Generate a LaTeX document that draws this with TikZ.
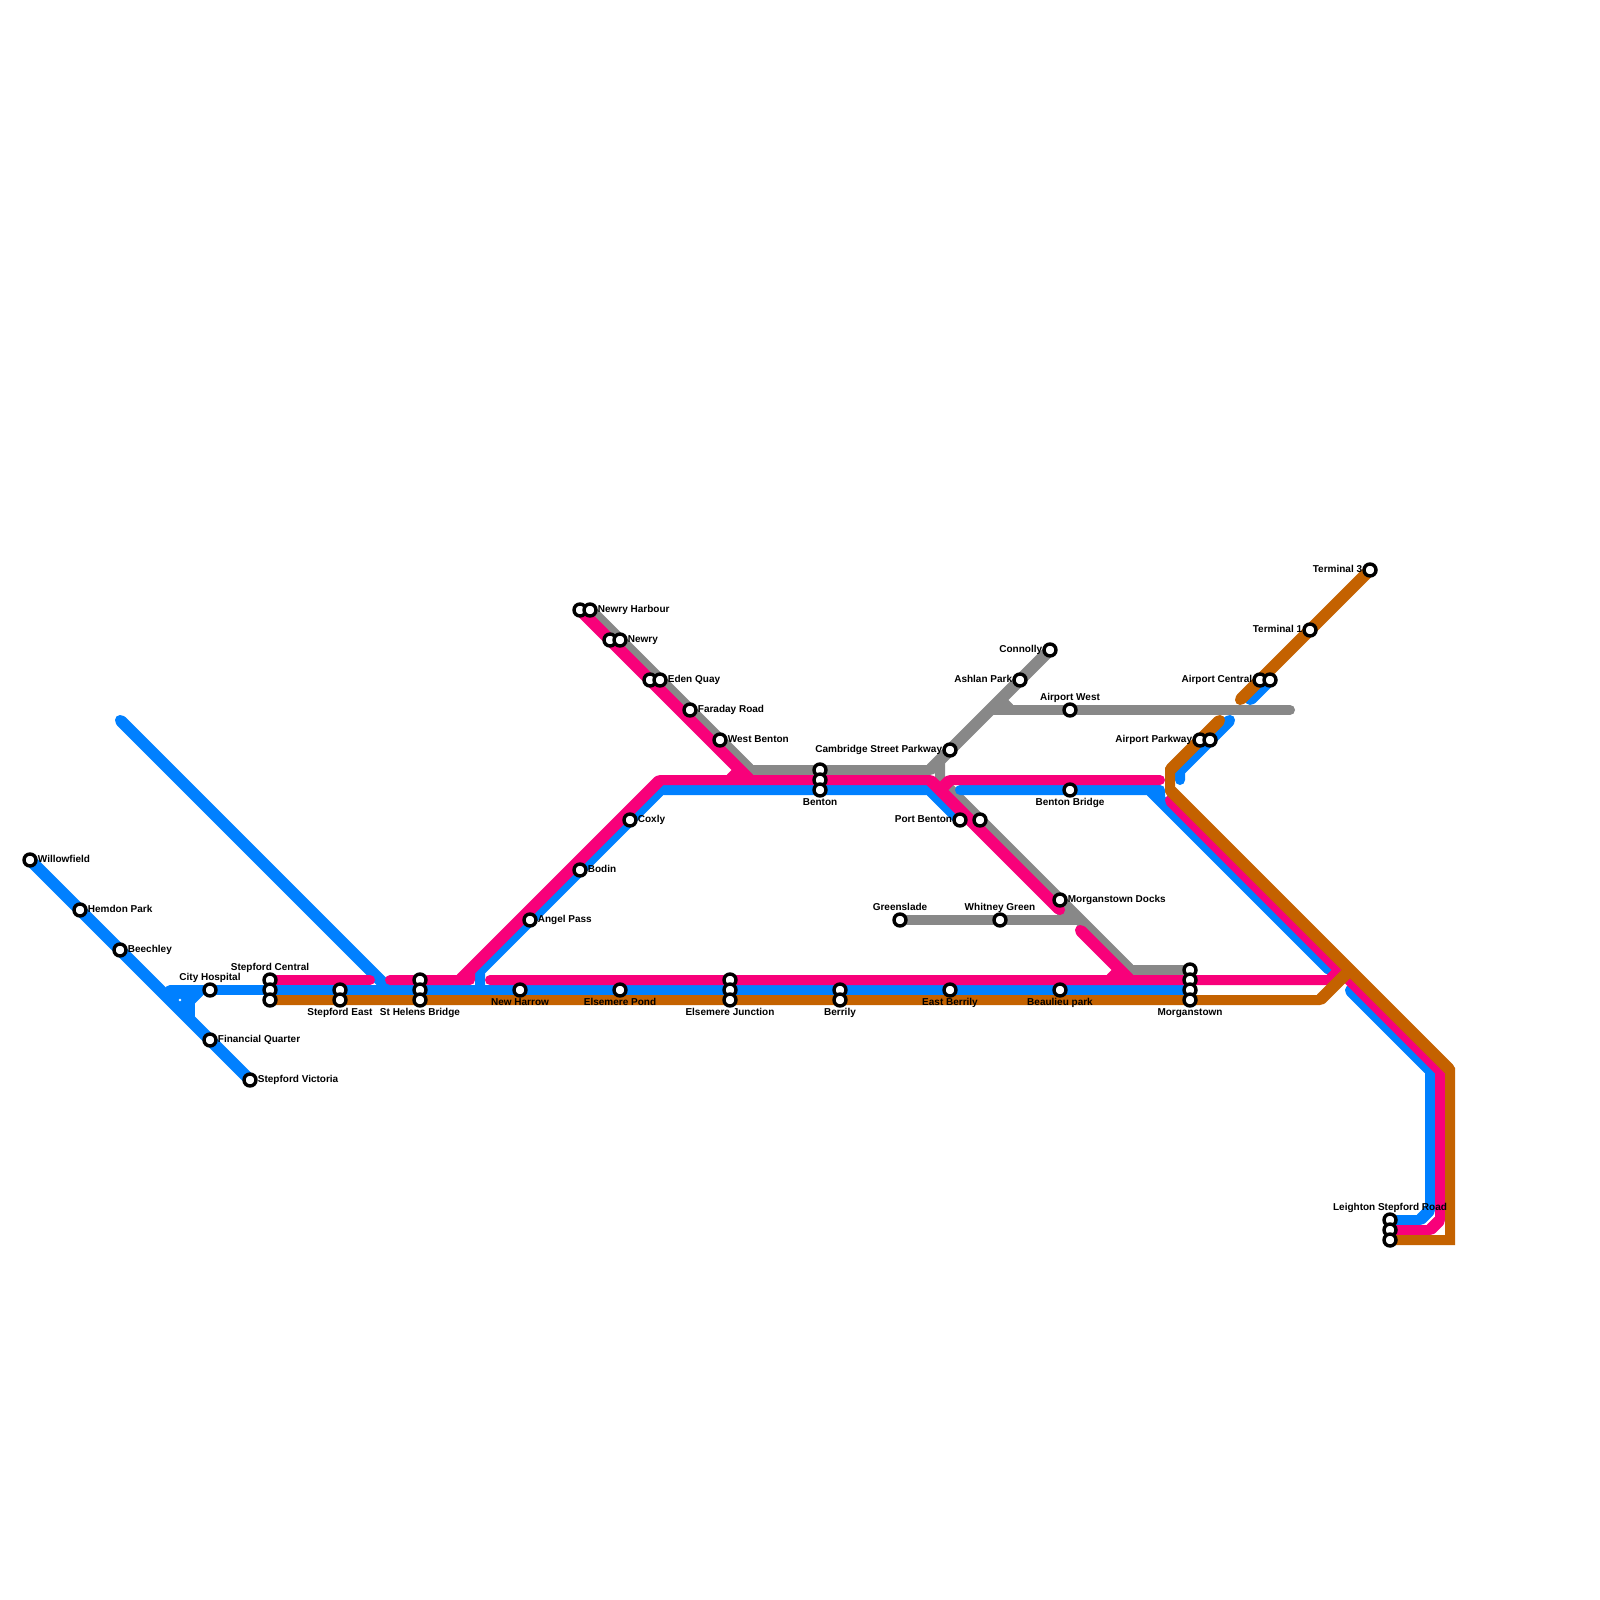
\documentclass[tikz,border=0pt]{standalone}
\usepackage{fontspec}
\setmainfont{Liberation Sans}
\usetikzlibrary{backgrounds}
\definecolor{lineblue}{HTML}{0080FF}
\definecolor{linered}{HTML}{F8007A}
\definecolor{linebrown}{HTML}{C46200}
\definecolor{linegrey}{HTML}{888888}
\tikzset{
lbltext/.style={inner sep=0pt, text height=7.2pt, text depth=2.1pt, font=\fontsize{10}{11}\selectfont\bfseries},
toright/.style={label={[lbltext]0:#1}},
toleft/.style={label={[lbltext]180:#1}},
toabove/.style={label={[lbltext]90:#1}},
tobelow/.style={label={[lbltext,yshift=-0.7pt]270:#1}}
}
\begin{document}
\begin{tikzpicture}[
x=1pt, y=-1pt,
stn/.style={draw=black, fill=white, circle, line width=3.4pt, minimum size=12pt, inner sep=0pt, label distance=1.7pt},
route/.style={line width=10pt, line cap=round, line join=round},
slant/.style={line width=11.8pt, line cap=round, shorten <=2pt, shorten >=2pt},
blueline/.style={route, lineblue},
redline/.style={route, linered},
brownline/.style={route, linebrown},
greyline/.style={route, linegrey}
]

\useasboundingbox (0,0) rectangle (1600,1600);

\node[stn,toright=Willowfield] (willowfield) at (30,860) {};
\node[stn,toright=Hemdon Park] (hemdon) at (80,910) {};
\node[stn,toright=Beechley] (beechley) at (120,950) {};
\node[stn,toabove=City Hospital] (hospital) at (210,990) {};
\node[stn,toright=Financial Quarter] (financial) at (210,1040) {};
\node[stn,toright=Stepford Victoria] (victoria) at (250,1080) {};

\node[stn,toabove=Stepford Central] (stepfordA) at (270,980) {};
\node[stn] (stepfordB) at (270,990) {};
\node[stn] (stepfordC) at (270,1000) {};
\node[stn] (stepeastA) at (340,990) {};
\node[stn,tobelow=Stepford East] (stepeastB) at (340,1000) {};
\node[stn] (helensA) at (420,980) {};
\node[stn] (helensB) at (420,990) {};
\node[stn,tobelow=St Helens Bridge] (helensC) at (420,1000) {};
\node[stn,tobelow=New Harrow] (harrow) at (520,990) {};
\node[stn,tobelow=Elsemere Pond] (pond) at (620,990) {};
\node[stn] (junctionA) at (730,980) {};
\node[stn] (junctionB) at (730,990) {};
\node[stn,tobelow=Elsemere Junction] (junctionC) at (730,1000) {};
\node[stn] (berrilyA) at (840,990) {};
\node[stn,tobelow=Berrily] (berrilyB) at (840,1000) {};
\node[stn,tobelow=East Berrily] (eastberrily) at (950,990) {};
\node[stn,tobelow=Beaulieu park] (beaulieu) at (1060,990) {};
\node[stn] (morganA) at (1190,970) {};
\node[stn] (morganB) at (1190,980) {};
\node[stn] (morganC) at (1190,990) {};
\node[stn,tobelow=Morganstown] (morganD) at (1190,1000) {};

\node[stn,toright=Angel Pass] (angel) at (530,920) {};
\node[stn,toright=Bodin] (bodin) at (580,870) {};
\node[stn,toright=Coxly] (coxly) at (630,820) {};

\node[stn] (harbourA) at (580,610) {};
\node[stn,toright=Newry Harbour] (harbourB) at (590,610) {};
\node[stn] (newryA) at (610,640) {};
\node[stn,toright=Newry] (newryB) at (620,640) {};
\node[stn] (edenA) at (650,680) {};
\node[stn,toright=Eden Quay] (edenB) at (660,680) {};
\node[stn,toright=Faraday Road] (faraday) at (690,710) {};
\node[stn,toright=West Benton] (westbenton) at (720,740) {};

\node[stn] (bentonA) at (820,770) {};
\node[stn] (bentonB) at (820,780) {};
\node[stn,tobelow=Benton] (bentonC) at (820,790) {};

\node[stn,toleft=Cambridge Street Parkway] (cambridge) at (950,750) {};
\node[stn,toleft=Ashlan Park] (ashlan) at (1020,680) {};
\node[stn,toleft=Connolly] (connolly) at (1050,650) {};
\node[stn,toabove=Airport West] (airportwest) at (1070,710) {};
\node[stn,tobelow=Benton Bridge] (bentonbridge) at (1070,790) {};
\node[stn,toleft=Port Benton] (portbenton) at (960,820) {};
\node[stn] (portgrey) at (980,820) {};
\node[stn,toright=Morganstown Docks] (docks) at (1060,900) {};
\node[stn,toabove=Greenslade] (greenslade) at (900,920) {};
\node[stn,toabove=Whitney Green] (whitney) at (1000,920) {};

\node[stn,toleft=Airport Parkway] (parkwayA) at (1200,740) {};
\node[stn] (parkwayB) at (1210,740) {};
\node[stn,toleft=Airport Central] (centralA) at (1260,680) {};
\node[stn] (centralB) at (1270,680) {};
\node[stn,toleft=Terminal 1] (terminalA) at (1310,630) {};
\node[stn,toleft=Terminal 3] (terminalC) at (1370,570) {};

\node[stn,toabove=Leighton Stepford Road] (leightonA) at (1390,1220) {};
\node[stn] (leightonB) at (1390,1230) {};
\node[stn] (leightonC) at (1390,1240) {};

\coordinate (greyA) at (750,770);
\coordinate (greyB) at (930,770);
\coordinate (greyC) at (940,760);
\coordinate (greyD) at (940,780);
\coordinate (greyE) at (1130,970);
\coordinate (greyF) at (1080,920);
\coordinate (greyG) at (1060,920);
\coordinate (greyH) at (1070,910);
\coordinate (greyI) at (990,710);
\coordinate (greyJ) at (1290,710);
\coordinate (greyK) at (1000,700);
\coordinate (greyL) at (1010,710);

\coordinate (blueA) at (120,720);
\coordinate (blueB) at (385,985);
\coordinate (blueC) at (170,990);
\coordinate (blueD) at (170,1000);
\coordinate (blueE) at (180,990);
\coordinate (blueF) at (190,1000);
\coordinate (blueG) at (190,1020);
\coordinate (blueH) at (200,990);
\coordinate (blueI) at (480,990);
\coordinate (blueJ) at (480,970);
\coordinate (blueK) at (660,790);
\coordinate (blueL) at (930,790);
\coordinate (blueM) at (960,790);
\coordinate (blueN) at (1160,790);
\coordinate (blueO) at (1160,800);
\coordinate (blueP) at (1330,970);
\coordinate (blueQ) at (1350,990);
\coordinate (blueR) at (1430,1070);
\coordinate (blueS) at (1430,1210);
\coordinate (blueT) at (1420,1220);
\coordinate (blueU) at (1180,780);
\coordinate (blueV) at (1180,770);
\coordinate (blueW) at (1230,720);
\coordinate (blueX) at (1250,700);
\coordinate (blueY) at (180,1010);
\coordinate (blueZ) at (1150,790);

\coordinate (redA) at (370,980);
\coordinate (redB) at (390,980);
\coordinate (redC) at (470,980);
\coordinate (redD) at (470,970);
\coordinate (redE) at (660,780);
\coordinate (redF) at (930,780);
\coordinate (redG) at (1060,910);
\coordinate (redH) at (750,780);
\coordinate (redI) at (730,780);
\coordinate (redJ) at (740,770);
\coordinate (redK) at (490,980);
\coordinate (redL) at (1330,980);
\coordinate (redM) at (1340,970);
\coordinate (redN) at (1170,800);
\coordinate (redO) at (1440,1070);
\coordinate (redP) at (1440,1220);
\coordinate (redQ) at (1430,1230);
\coordinate (redR) at (1080,930);
\coordinate (redS) at (1130,980);
\coordinate (redT) at (1110,980);
\coordinate (redU) at (1120,970);
\coordinate (redV) at (1160,780);
\coordinate (redW) at (950,780);
\coordinate (redX) at (940,790);
\coordinate (redY) at (460,980);

\coordinate (brownA) at (1240,700);
\coordinate (brownB) at (1220,720);
\coordinate (brownC) at (1170,770);
\coordinate (brownD) at (1170,790);
\coordinate (brownE) at (1450,1070);
\coordinate (brownF) at (1450,1240);
\coordinate (brownG) at (1320,1000);
\coordinate (brownH) at (1350,970);

\begin{scope}[on background layer]
\draw[greyline] (harbourB.center) -- (newryB.center) -- (edenB.center) -- (faraday.center) -- (westbenton.center) -- (greyA) -- (bentonA.center) -- (greyB) -- (cambridge.center) -- (ashlan.center) -- (connolly.center);
\draw[greyline] (greyC) -- (greyD) -- (portgrey.center) -- (docks.center) -- (greyE) -- (morganA.center);
\draw[greyline] (greenslade.center) -- (whitney.center) -- (greyF);
\draw[greyline] (greyI) -- (airportwest.center) -- (greyJ);
\foreach \a/\b in {harbourB.center/greyA, greyB/connolly.center, greyD/greyE, greyG/greyH, greyK/greyL}
  \draw[linegrey,slant] (\a) -- (\b);

\draw[blueline] (blueC) -- (hospital.center) -- (stepfordB.center) -- (stepeastA.center) -- (helensB.center) -- (harrow.center) -- (pond.center) -- (junctionB.center) -- (berrilyA.center) -- (eastberrily.center) -- (beaulieu.center) -- (morganC.center);
\draw[blueline] (willowfield.center) -- (hemdon.center) -- (beechley.center) -- (financial.center) -- (victoria.center);
\draw[blueline] (blueA) -- (blueB);
\draw[blueline] (blueF) -- (blueG);
\draw[blueline] (blueI) -- (blueJ) -- (angel.center) -- (bodin.center) -- (coxly.center) -- (blueK) -- (bentonC.center) -- (blueL) -- (portbenton.center);
\draw[blueline] (blueM) -- (bentonbridge.center) -- (blueN) -- (blueO) -- (blueP);
\draw[blueline] (blueQ) -- (blueR) -- (blueS) -- (blueT) -- (leightonA.center);
\draw[blueline] (blueU) -- (blueV) -- (parkwayB.center) -- (blueW);
\draw[blueline] (blueX) -- (centralB.center);
\foreach \a/\b in {willowfield.center/victoria.center, blueA/blueB, blueD/blueE, blueE/blueF, blueH/blueY, blueJ/blueK, blueL/portbenton.center, blueZ/blueP, blueQ/blueR, blueS/blueT, blueV/blueW, blueX/centralB.center}
  \draw[lineblue,slant] (\a) -- (\b);

\draw[redline] (stepfordA.center) -- (redA);
\draw[redline] (redB) -- (helensA.center) -- (redC) -- (redD) -- (redE) -- (bentonB.center) -- (redF) -- (redG);
\draw[redline] (harbourA.center) -- (newryA.center) -- (edenA.center) -- (redH);
\draw[redline] (redK) -- (junctionA.center) -- (morganB.center) -- (redL) -- (redM);
\draw[redline] (redN) -- (redM) -- (redO) -- (redP) -- (redQ) -- (leightonB.center);
\draw[redline] (redR) -- (redS);
\draw[redline] (redV) -- (redW) -- (redX);
\foreach \a/\b in {redY/redE, redF/redG, harbourA.center/redH, redI/redJ, redL/redM, redN/redO, redP/redQ, redR/redS, redT/redU, redW/redX}
  \draw[linered,slant] (\a) -- (\b);

\draw[brownline] (terminalC.center) -- (terminalA.center) -- (centralA.center) -- (brownA);
\draw[brownline,line join=miter] (brownB) -- (parkwayA.center) -- (brownC) -- (brownD) -- (brownE) -- (brownF) -- (leightonC.center);
\draw[brownline] (stepfordC.center) -- (stepeastB.center) -- (helensC.center) -- (junctionC.center) -- (berrilyB.center) -- (morganD.center) -- (brownG) -- (brownH);
\foreach \a/\b in {terminalC.center/brownA, brownB/brownC, brownD/brownE, brownG/brownH}
  \draw[linebrown,slant] (\a) -- (\b);
\end{scope}

\end{tikzpicture}
\end{document}
